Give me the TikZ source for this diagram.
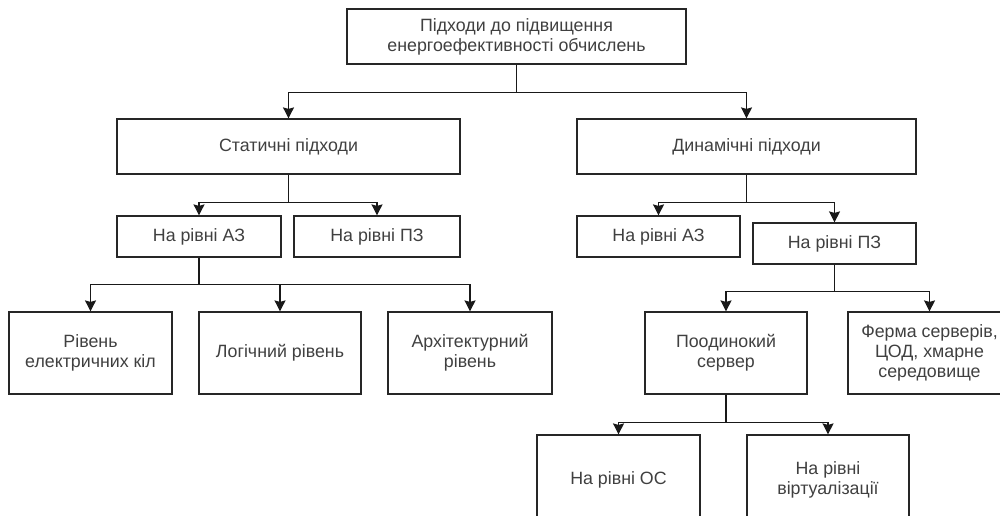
\documentclass[tikz,border=0pt]{standalone}
\usepackage{fontspec}
\setmainfont{Liberation Sans}
\usetikzlibrary{arrows.meta}
\begin{document}
\begin{tikzpicture}[x=1pt,y=-1pt,
  box/.style={draw=black!85, line width=1.2pt, fill=white, text=black!75,
    align=center, font=\fontsize{17.8}{20}\selectfont, inner sep=0pt},
  wide/.style={box, minimum height=55pt},
  small/.style={box, minimum height=41pt},
  mid/.style={box, minimum height=82pt},
  low/.style={box, minimum height=90pt},
  arr/.style={draw=black!90, line width=1.2pt,
    -{Stealth[length=11pt,width=11pt,inset=1.5pt]}}]
\useasboundingbox (0,0) rectangle (1000,515);
\clip (0,0) rectangle (1000,515);

\node[wide, minimum width=339pt] (top) at (516.5,36.5)
  {Підходи до підвищення\\енергоефективності обчислень};
\node[wide, minimum width=343pt] (stat) at (288.5,146.5) {Статичні підходи};
\node[wide, minimum width=339pt] (dyn) at (746.5,146.5) {Динамічні підходи};

\node[small, minimum width=164pt] (saz) at (199,236.5) {На рівні АЗ};
\node[small, minimum width=166pt] (spz) at (377,236.5) {На рівні ПЗ};
\node[small, minimum width=163pt] (daz) at (658.5,236.5) {На рівні АЗ};
\node[small, minimum width=163pt] (dpz) at (834.5,243.5) {На рівні ПЗ};

\node[mid, minimum width=163pt] (el) at (90.5,353) {Рівень\\електричних кіл};
\node[mid, minimum width=162pt] (log) at (280,353) {Логічний рівень};
\node[mid, minimum width=164pt] (arch) at (470,353) {Архітектурний\\рівень};
\node[mid, minimum width=162pt] (single) at (726,353) {Поодинокий\\сервер};
\node[mid, minimum width=163pt] (farm) at (929.5,353)
  {Ферма серверів,\\ЦОД, хмарне\\середовище};

\node[low, minimum width=163pt] (os) at (618.5,480) {На рівні ОС};
\node[low, minimum width=162pt] (virt) at (828,480) {На рівні\\віртуалізації};

\draw[arr] (top.south) -- ++(0,28) -| (stat.north);
\draw[arr] (top.south) -- ++(0,28) -| (dyn.north);

\draw[arr] (stat.south) -- ++(0,28) -| (saz.north);
\draw[arr] (stat.south) -- ++(0,28) -| (spz.north);
\draw[arr] (dyn.south) -- ++(0,28) -| (daz.north);
\draw[arr] (dyn.south) -- ++(0,28) -| (dpz.north);

\draw[arr] (saz.south) -- ++(0,27) -| (el.north);
\draw[arr] (saz.south) -- ++(0,27) -| (log.north);
\draw[arr] (saz.south) -- ++(0,27) -| (arch.north);

\draw[arr] (dpz.south) -- ++(0,27) -| (single.north);
\draw[arr] (dpz.south) -- ++(0,27) -| (farm.north);

\draw[arr] (single.south) -- ++(0,28) -| (os.north);
\draw[arr] (single.south) -- ++(0,28) -| (virt.north);
\end{tikzpicture}
\end{document}
